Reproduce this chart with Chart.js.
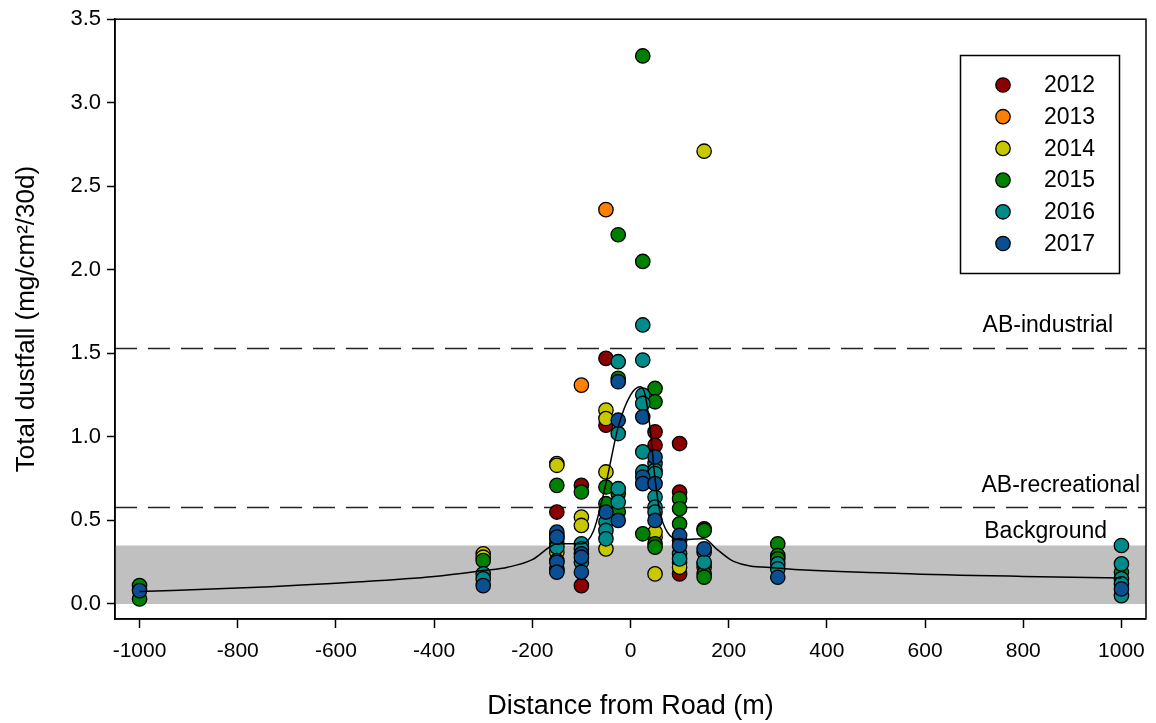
<!DOCTYPE html>
<html>
<head>
<meta charset="utf-8">
<script src="https://cdn.jsdelivr.net/npm/chart.js@4/dist/chart.umd.min.js"></script>
<style>
  body { margin: 0; background: #fff; }
  #wrap { width: 1156px; height: 723px; }
</style>
</head>
<body>
<div id="wrap"><canvas id="grafico" width="1156" height="723"></canvas></div>
<script>
// datos: [distancia (m), polvo total (mg/cm2/30d)]
const anios = ["2012", "2013", "2014", "2015", "2016", "2017"];
const colores = ["#8b0000", "#ff8000", "#c8c800", "#008000", "#008b8b", "#0b4f93"];

const d2012 = [[-150,0.55],[-100,0.71],[-100,0.11],[-50,1.47],[-50,1.07],[50,1.03],[50,0.95],
  [100,0.96],[100,0.67],[100,0.18],[150,0.45]];
const d2013 = [[-150,0.41],[-100,1.31],[-50,2.36]];
const d2014 = [[-300,0.30],[-300,0.28],[-150,0.84],[-150,0.83],[-150,0.39],[-150,0.31],[-100,0.52],
  [-100,0.47],[-50,1.16],[-50,1.11],[-50,0.79],[-50,0.33],[50,0.40],[50,0.43],[50,0.18],[100,0.25],
  [100,0.22],[150,2.71],[150,0.22],[150,0.24]];
const d2015 = [[-1000,0.11],[-1000,0.03],[-300,0.26],[-150,0.71],[-150,0.36],[-150,0.20],[-100,0.67],
  [-50,0.70],[-50,0.60],[-25,2.21],[-25,1.35],[-25,0.66],[-25,0.55],[25,3.28],[25,2.05],[25,0.42],
  [50,1.29],[50,1.21],[50,0.36],[50,0.34],[100,0.63],[100,0.57],[100,0.48],[150,0.44],[150,0.18],
  [150,0.16],[300,0.36],[300,0.29],[300,0.27],[1000,0.19]];
const d2016 = [[-300,0.18],[-300,0.15],[-150,0.34],[-150,0.26],[-150,0.21],[-100,0.36],[-100,0.33],
  [-100,0.25],[-50,0.49],[-50,0.44],[-50,0.39],[-25,1.45],[-25,1.02],[-25,0.69],[-25,0.61],[25,1.67],
  [25,1.46],[25,1.25],[25,1.20],[25,0.91],[25,0.79],[50,0.84],[50,0.80],[50,0.78],[50,0.64],[50,0.58],
  [50,0.55],[100,0.38],[100,0.30],[100,0.27],[150,0.31],[150,0.25],[300,0.24],[300,0.21],[1000,0.35],
  [1000,0.24],[1000,0.15],[1000,0.12],[1000,0.05]];
const d2017 = [[-1000,0.08],[-300,0.11],[-150,0.43],[-150,0.40],[-150,0.25],[-150,0.19],[-100,0.30],
  [-100,0.28],[-100,0.19],[-50,0.55],[-25,1.33],[-25,1.10],[-25,0.50],[25,1.12],[25,0.76],[25,0.72],
  [50,0.88],[50,0.72],[50,0.50],[100,0.41],[100,0.35],[150,0.33],[300,0.16],[1000,0.09]];
const porAnio = [d2012, d2013, d2014, d2015, d2016, d2017];

// curva ajustada
const ajusteX = [-1000,-800,-550,-400,-300,-250,-200,-165,-150,-100,-75,-50,-25,0,20,30,40,50,60,75,100,150,175,210,300,550,800,1000];
const ajusteY = [0.075,0.095,0.133,0.165,0.20,0.22,0.265,0.34,0.36,0.36,0.44,0.72,1.06,1.25,1.30,1.25,1.05,0.75,0.55,0.43,0.385,0.39,0.33,0.255,0.215,0.183,0.165,0.155];

// guias de Alberta y fondo
const industrial = 1.53;
const recreacional = 0.58;
const fondo = 0.35;

const ticksX = [-1000,-800,-600,-400,-200,0,200,400,600,800,1000];
const ticksY = [0,0.5,1.0,1.5,2.0,2.5,3.0,3.5];

const FUENTE = "'Liberation Sans', Arial, sans-serif";
Chart.defaults.font.family = FUENTE;
Chart.defaults.color = "#000";

const guias = {
  id: "guias",
  beforeDatasetsDraw(chart) {
    const { ctx, chartArea: a, scales: { y } } = chart;
    ctx.save();
    ctx.fillStyle = "#c0c0c0";
    const y0 = y.getPixelForValue(0), y1 = y.getPixelForValue(fondo);
    ctx.fillRect(a.left, y1, a.right - a.left, y0 - y1);

    ctx.strokeStyle = "#222";
    ctx.lineWidth = 1.3;
    ctx.setLineDash([22, 11]);
    [industrial, recreacional].forEach(v => {
      const py = Math.round(y.getPixelForValue(v)) + 0.5;
      ctx.beginPath();
      ctx.moveTo(a.left, py);
      ctx.lineTo(a.right, py);
      ctx.stroke();
    });
    ctx.setLineDash([]);

    ctx.fillStyle = "#000";
    ctx.font = "23px " + FUENTE;
    ctx.textAlign = "right";
    ctx.textBaseline = "middle";
    ctx.fillText("AB-industrial", 1113, y.getPixelForValue(industrial) - 23);
    ctx.fillText("AB-recreational", 1140, y.getPixelForValue(recreacional) - 21);
    ctx.fillText("Background", 1107, y.getPixelForValue(fondo) - 14);
    ctx.restore();
  },
  afterDraw(chart) {
    const { ctx, chartArea: a } = chart;
    ctx.save();
    ctx.strokeStyle = "#000";
    ctx.lineWidth = 1.5;
    ctx.strokeRect(a.left, a.top, a.right - a.left, a.bottom - a.top);

    // leyenda
    ctx.lineWidth = 1.5;
    ctx.strokeRect(960.5, 55.5, 159, 218);
    ctx.font = "23px " + FUENTE;
    ctx.textAlign = "left";
    ctx.textBaseline = "middle";
    anios.forEach((an, i) => {
      const py = 85 + i * 31.7;
      ctx.beginPath();
      ctx.arc(1003, py, 7.2, 0, Math.PI * 2);
      ctx.fillStyle = colores[i];
      ctx.fill();
      ctx.lineWidth = 1.3;
      ctx.strokeStyle = "#000";
      ctx.stroke();
      ctx.fillStyle = "#000";
      ctx.fillText(an, 1044, py + 1);
    });
    ctx.restore();
  }
};

const datasets = anios.map((an, i) => ({
  label: an,
  data: porAnio[i].map(p => ({ x: p[0], y: p[1] })),
  backgroundColor: colores[i],
  borderColor: "#000",
  borderWidth: 1.3,
  pointRadius: 7.2,
  pointHoverRadius: 7.2,
  order: 7 - i
}));

datasets.push({
  label: "ajuste",
  data: ajusteX.map((x, i) => ({ x, y: ajusteY[i] })),
  showLine: true,
  borderColor: "#000",
  borderWidth: 1.5,
  pointRadius: 0,
  cubicInterpolationMode: "monotone",
  order: 0
});

new Chart(document.getElementById("grafico"), {
  type: "scatter",
  data: { datasets },
  options: {
    responsive: false,
    devicePixelRatio: 1,
    animation: false,
    layout: { padding: { top: 18, right: 8, left: 0, bottom: 0 } },
    plugins: { legend: { display: false }, tooltip: { enabled: false } },
    scales: {
      x: {
        type: "linear",
        min: -1050,
        max: 1050,
        afterBuildTicks: s => { s.ticks = ticksX.map(v => ({ value: v })); },
        afterFit: s => { s.height = 104; },
        grid: { drawOnChartArea: false, tickLength: 9, tickColor: "#000", tickWidth: 1.5 },
        border: { color: "#000", width: 1.5 },
        ticks: { font: { size: 21 }, padding: 11, maxRotation: 0, callback: v => String(v) },
        title: { display: true, text: "Distance from Road (m)", font: { size: 27 }, padding: { top: 0, bottom: 0 } }
      },
      y: {
        min: -0.09,
        max: 3.5,
        afterBuildTicks: s => { s.ticks = ticksY.map(v => ({ value: v })); },
        afterFit: s => { s.width = 115; },
        grid: { drawOnChartArea: false, tickLength: 8, tickColor: "#000", tickWidth: 1.5 },
        border: { color: "#000", width: 1.5 },
        ticks: { font: { size: 22 }, padding: 6, callback: v => Number(v).toFixed(1) },
        title: { display: true, text: "Total dustfall (mg/cm²/30d)", font: { size: 26 }, padding: { top: 11, bottom: 0 } }
      }
    }
  },
  plugins: [guias]
});
</script>
</body>
</html>
